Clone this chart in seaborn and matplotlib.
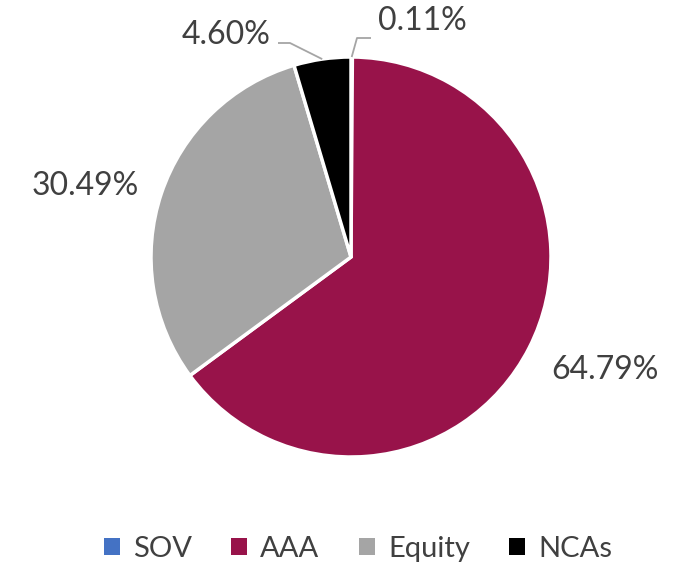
import numpy as np
import matplotlib
matplotlib.use("Agg")
import matplotlib.pyplot as plt
import seaborn as sns
from matplotlib.patches import Patch

sns.set_style("white")
plt.rcParams["font.family"] = ["Lato", "DejaVu Sans"]

# ── datos ────────────────────────────────────────────────────────────────────
categorias = ["SOV", "AAA", "Equity", "NCAs"]
valores    = [0.11, 64.79, 30.49, 4.60]
etiquetas  = ["0.11%", "64.79%", "30.49%", "4.60%"]
colores    = ["#4472C4", "#98134A", "#A5A5A5", "#000000"]

TXT = "#404040"

fig = plt.figure(figsize=(6.77, 5.71), dpi=100)
ax = fig.add_axes([0, 0, 1, 1])

cx, cy, r = 351, 314, 200
wedges, _ = ax.pie(
    valores, colors=colores, startangle=90, counterclock=False,
    center=(cx, cy), radius=r, frame=True,
    wedgeprops=dict(edgecolor="white", linewidth=2.5),
)
ax.set_xlim(0, 677)
ax.set_ylim(0, 571)
ax.axis("off")

# posiciones de las etiquetas (px, y hacia arriba)
pos_lbl = {"SOV": (422, 550), "AAA": (605, 201), "Equity": (85, 385), "NCAs": (226, 536)}
for w, cat, lbl in zip(wedges, categorias, etiquetas):
    x, y = pos_lbl[cat]
    ax.text(x, y, lbl, ha="center", va="center", fontsize=23, color=TXT)

# líneas guía para las porciones chicas
def borde(w):
    ang = np.deg2rad((w.theta1 + w.theta2) / 2)
    return cx + r * np.cos(ang), cy + r * np.sin(ang)

x0, y0 = borde(wedges[0])
ax.plot([x0, 357, 371], [y0, 533, 533], color="#A5A5A5", lw=1.3, solid_capstyle="butt")
x0, y0 = borde(wedges[3])
ax.plot([x0, 290, 278], [y0, 528, 528], color="#A5A5A5", lw=1.3, solid_capstyle="butt")

handles = [Patch(facecolor=c, edgecolor="none", label=n) for n, c in zip(categorias, colores)]
leg = fig.legend(
    handles=handles, loc="center", bbox_to_anchor=(358 / 677, 22 / 571),
    ncol=4, frameon=False, fontsize=21, handlelength=0.55, handleheight=0.55,
    handletextpad=0.45, columnspacing=1.35,
)
for t in leg.get_texts():
    t.set_color(TXT)

fig.savefig("out.png", dpi=100)
plt.close(fig)
